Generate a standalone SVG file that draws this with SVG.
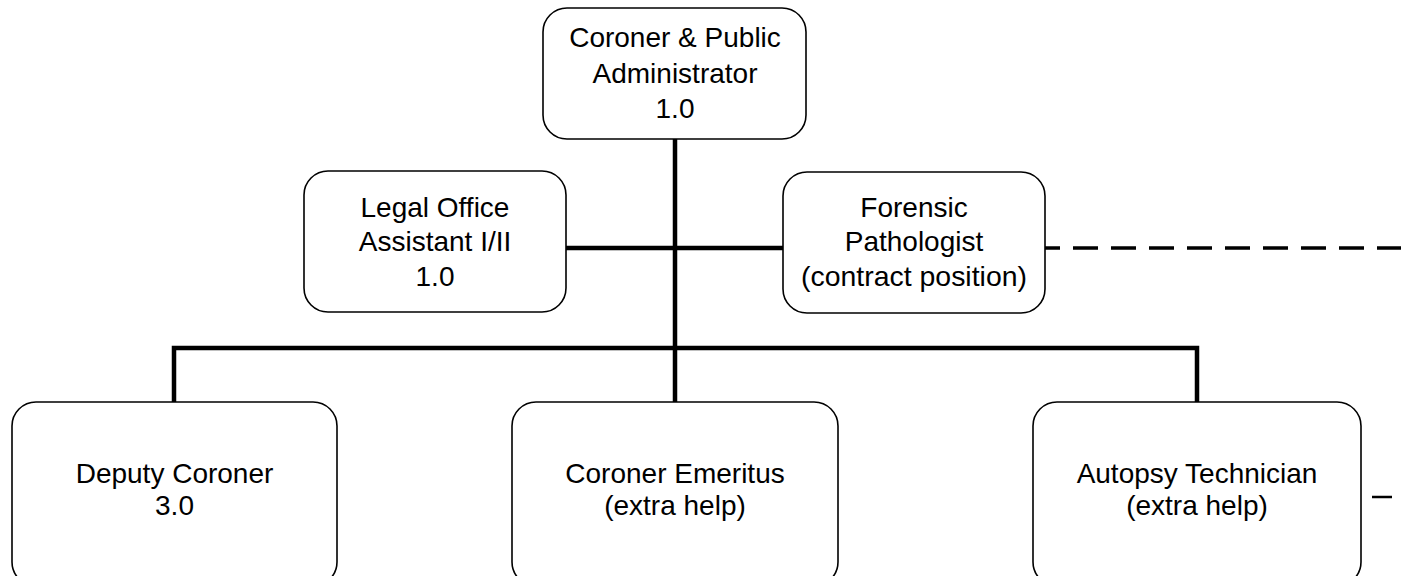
<svg xmlns="http://www.w3.org/2000/svg" width="1401" height="576" viewBox="0 0 1401 576">
<style>
.box{fill:#fff;stroke:#000;stroke-width:1.6}
.t{font-family:"Liberation Sans",Arial,sans-serif;font-size:28px;fill:#000;text-anchor:middle}
.solid{fill:none;stroke:#000;stroke-width:4.5}
.dash{fill:none;stroke:#000;stroke-width:3.5;stroke-dasharray:25 13;stroke-dashoffset:10}
</style>
<rect width="1401" height="576" fill="#fff"/>
<g id="connectors">
<line class="solid" x1="675" y1="139" x2="675" y2="402"/>
<line class="solid" x1="566" y1="248" x2="783" y2="248"/>
<polyline class="solid" points="174,402 174,348 1197,348 1197,402"/>
<line class="dash" x1="1045" y1="248" x2="1401" y2="248"/>
<line x1="1372" y1="497" x2="1392" y2="497" stroke="#000" stroke-width="2.5"/>
</g>
<g id="coroner">
<rect class="box" x="543" y="8" width="263" height="131" rx="24"/>
<text class="t" x="675" y="47">Coroner &amp; Public</text>
<text class="t" x="675" y="83">Administrator</text>
<text class="t" x="675" y="118">1.0</text>
</g>
<g id="legal">
<rect class="box" x="304" y="171" width="262" height="141" rx="24"/>
<text class="t" x="435" y="217">Legal Office</text>
<text class="t" x="435" y="251">Assistant I/II</text>
<text class="t" x="435" y="286">1.0</text>
</g>
<g id="forensic">
<rect class="box" x="783" y="172" width="262" height="141" rx="24"/>
<text class="t" x="914" y="217">Forensic</text>
<text class="t" x="914" y="251">Pathologist</text>
<text class="t" x="914" y="286" textLength="226" lengthAdjust="spacingAndGlyphs">(contract position)</text>
</g>
<g id="deputy">
<rect class="box" x="12" y="402" width="325" height="184" rx="24"/>
<text class="t" x="174.5" y="483">Deputy Coroner</text>
<text class="t" x="174.5" y="515">3.0</text>
</g>
<g id="emeritus">
<rect class="box" x="512" y="402" width="326" height="184" rx="24"/>
<text class="t" x="675" y="483">Coroner Emeritus</text>
<text class="t" x="675" y="515">(extra help)</text>
</g>
<g id="autopsy">
<rect class="box" x="1033" y="402" width="328" height="184" rx="24"/>
<text class="t" x="1197" y="483">Autopsy Technician</text>
<text class="t" x="1197" y="515">(extra help)</text>
</g>
</svg>
